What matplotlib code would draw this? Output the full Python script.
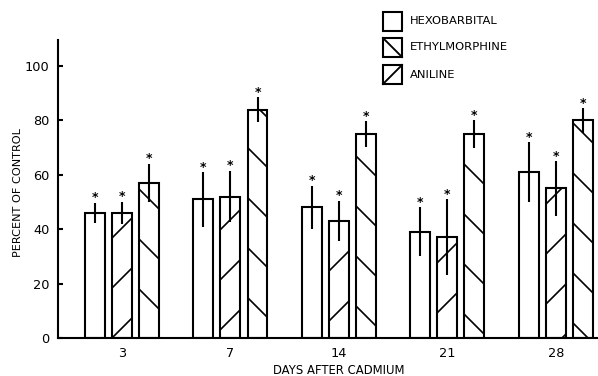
import matplotlib
matplotlib.use("Agg")
import matplotlib.pyplot as plt
import numpy as np
from matplotlib.patches import Rectangle
from matplotlib.lines import Line2D

days = ["3", "7", "14", "21", "28"]
hexobarbital = [46, 51, 48, 39, 61]
hexobarbital_err = [3.7, 10, 8, 9, 11]
ethylmorphine = [46, 52, 43, 37, 55]
ethylmorphine_err = [4, 9.5, 7.5, 14, 10]
aniline = [57, 84, 75, 75, 80]
aniline_err = [7, 4.5, 4.7, 5, 4.5]
legend_labels = ["HEXOBARBITAL", "ETHYLMORPHINE", "ANILINE"]

W, H, DPI = 598, 376, 150
plt.rcParams["font.family"] = ["DejaVu Sans"]
plt.rcParams["hatch.linewidth"] = 0.8
plt.rcParams["hatch.color"] = "black"

fig = plt.figure(figsize=(W / DPI, H / DPI), dpi=DPI)
ax = fig.add_axes([58 / W, 38 / H, 540 / W, 298 / H])

x = np.arange(len(days))
off = 0.25
width = 0.184
series = [
    (hexobarbital, hexobarbital_err, ""),
    (ethylmorphine, ethylmorphine_err, "/"),
    (aniline, aniline_err, "\\"),
]
for i, (vals, errs, hatch) in enumerate(series):
    pos = x + (i - 1) * off
    ax.bar(pos, vals, width=width, facecolor="white", edgecolor="black",
           linewidth=1.0, hatch=hatch, zorder=2)
    ax.errorbar(pos, vals, yerr=errs, fmt="none", ecolor="black",
                elinewidth=1.0, capsize=0, zorder=3)
    for p, v, e in zip(pos, vals, errs):
        ax.text(p, v + e + 0.6, "*", ha="center", va="baseline",
                fontsize=6, fontweight="bold")

ax.set_xlim(-0.59, 4.39)
ax.set_ylim(0, 109.6)
ax.set_yticks([0, 20, 40, 60, 80, 100])
ax.set_xticks(x)
ax.set_xticklabels(days)
ax.tick_params(axis="y", direction="in", length=2.5, width=1.0, pad=4,
               labelsize=6.2)
ax.tick_params(axis="x", length=0, pad=4.5, labelsize=6.2)
for s in ["top", "right"]:
    ax.spines[s].set_visible(False)
for s in ["left", "bottom"]:
    ax.spines[s].set_linewidth(1.0)

ax.set_xlabel("DAYS AFTER CADMIUM", fontsize=5.6, va="center")
ax.xaxis.set_label_coords((339 - 58) / 540, -(370 - 338) / 298)
ax.set_ylabel("PERCENT OF CONTROL", fontsize=5.4, va="center")
ax.yaxis.set_label_coords((18 - 58) / 540, (338 - 193) / 298)

# legend drawn by hand to match the original layout
box_x, box_w = 383, 19
rows = [12, 38, 65]
for k, (top, lab) in enumerate(zip(rows, legend_labels)):
    fig.add_artist(Rectangle((box_x / W, 1 - (top + box_w) / H), box_w / W,
                             box_w / H, transform=fig.transFigure,
                             facecolor="white", edgecolor="black", lw=1.0))
    if k == 1:
        fig.add_artist(Line2D([box_x / W, (box_x + box_w) / W],
                              [1 - top / H, 1 - (top + box_w) / H],
                              transform=fig.transFigure, color="black", lw=0.9))
    if k == 2:
        fig.add_artist(Line2D([box_x / W, (box_x + box_w) / W],
                              [1 - (top + box_w) / H, 1 - top / H],
                              transform=fig.transFigure, color="black", lw=0.9))
    fig.text(410 / W, 1 - (top + box_w / 2) / H, lab, ha="left", va="center",
             fontsize=5.5)

fig.savefig("out.png", dpi=DPI)
